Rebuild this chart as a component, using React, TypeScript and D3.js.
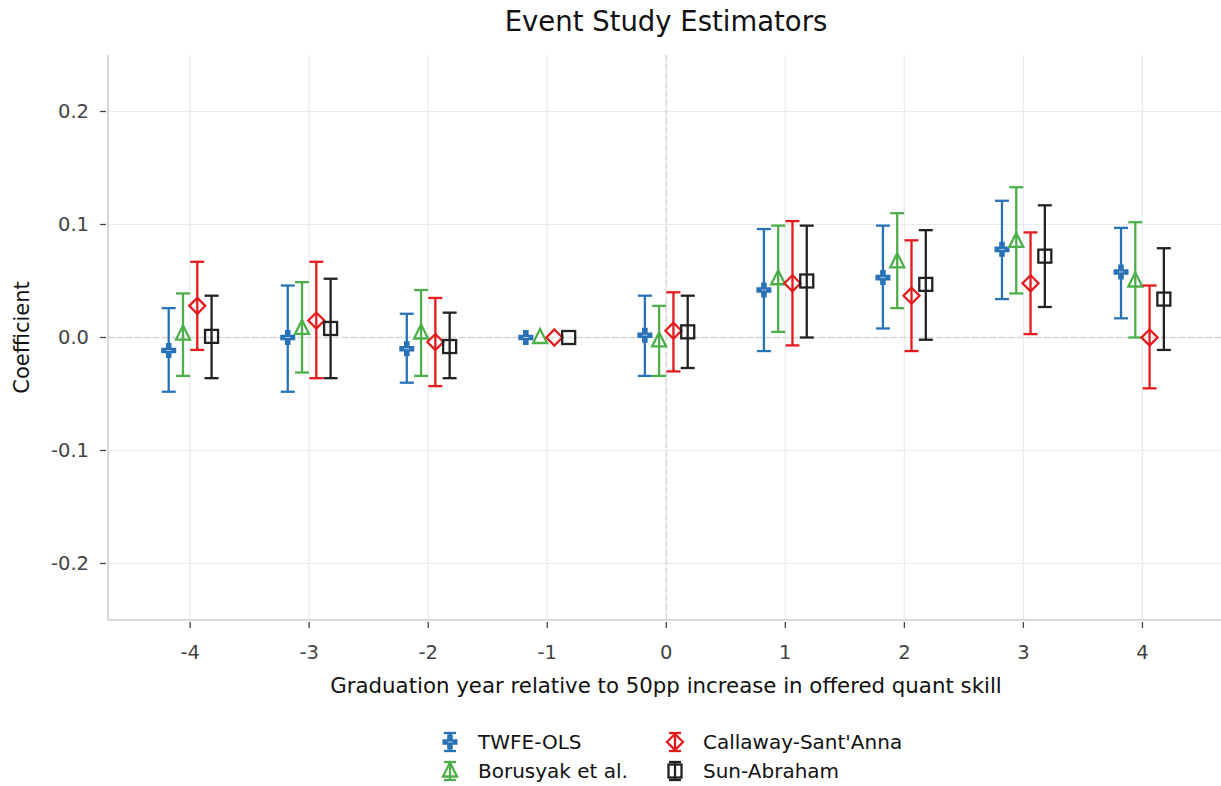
import React from "react";
import * as d3 from "d3";

const periods = [-4, -3, -2, -1, 0, 1, 2, 3, 4];

const twfeCoef = [-0.0115, 0.0, -0.010, 0.0, 0.002, 0.042, 0.053, 0.078, 0.058];
const twfeLow = [-0.048, -0.048, -0.040, 0.0, -0.034, -0.012, 0.008, 0.034, 0.017];
const twfeHigh = [0.026, 0.046, 0.021, 0.0, 0.037, 0.096, 0.099, 0.121, 0.097];

const borCoef = [0.003, 0.008, 0.004, 0.0, -0.003, 0.052, 0.067, 0.085, 0.050];
const borLow = [-0.034, -0.031, -0.034, 0.0, -0.034, 0.005, 0.026, 0.039, 0.0];
const borHigh = [0.039, 0.049, 0.042, 0.0, 0.028, 0.099, 0.110, 0.133, 0.102];

const csCoef = [0.028, 0.015, -0.004, 0.0, 0.006, 0.048, 0.037, 0.048, 0.0];
const csLow = [-0.011, -0.036, -0.043, 0.0, -0.030, -0.007, -0.012, 0.003, -0.045];
const csHigh = [0.067, 0.067, 0.035, 0.0, 0.040, 0.103, 0.086, 0.093, 0.046];

const saCoef = [0.001, 0.008, -0.008, 0.0, 0.005, 0.050, 0.047, 0.072, 0.034];
const saLow = [-0.036, -0.036, -0.036, 0.0, -0.027, 0.0, -0.002, 0.027, -0.011];
const saHigh = [0.037, 0.052, 0.022, 0.0, 0.037, 0.099, 0.095, 0.117, 0.079];

const yTicks = [-0.2, -0.1, 0.0, 0.1, 0.2];

const series = [
  { name: "TWFE-OLS", color: "#2a72b8", shape: "plus", offset: -0.18, coef: twfeCoef, low: twfeLow, high: twfeHigh },
  { name: "Borusyak et al.", color: "#4daf4a", shape: "triangle", offset: -0.06, coef: borCoef, low: borLow, high: borHigh },
  { name: "Callaway-Sant'Anna", color: "#e41a1c", shape: "diamond", offset: 0.06, coef: csCoef, low: csLow, high: csHigh },
  { name: "Sun-Abraham", color: "#222222", shape: "square", offset: 0.18, coef: saCoef, low: saLow, high: saHigh },
];

const W = 1221;
const H = 786;
const left = 108;
const right = 1221;
const top = 55;
const bottom = 620;
const font = "DejaVu Sans, sans-serif";
const sw = 2.3;

const Marker = ({ shape, color, x, y }: { shape: string; color: string; x: number; y: number }) => {
  if (shape === "plus") {
    const a = 7.5, t = 2.8;
    const d = `M${x - t},${y - a}H${x + t}V${y - t}H${x + a}V${y + t}H${x + t}V${y + a}H${x - t}V${y + t}H${x - a}V${y - t}H${x - t}Z`;
    return (
      <g>
        <path d={d} fill={color} />
        <line x1={x - 2.5} x2={x + 2.5} y1={y} y2={y} stroke="#ffffff" strokeWidth={0.8} opacity={0.8} />
      </g>
    );
  }
  if (shape === "triangle") {
    const d = `M${x},${y - 8.5}L${x + 7},${y + 5.5}L${x - 7},${y + 5.5}Z`;
    return <path d={d} fill="none" stroke={color} strokeWidth={sw} />;
  }
  if (shape === "diamond") {
    const d = `M${x},${y - 8}L${x + 8},${y}L${x},${y + 8}L${x - 8},${y}Z`;
    return <path d={d} fill="none" stroke={color} strokeWidth={sw} />;
  }
  return <rect x={x - 6.5} y={y - 6.5} width={13} height={13} fill="none" stroke={color} strokeWidth={sw} />;
};

export default function App() {
  const x = d3.scaleLinear().domain([-4.69, 4.66]).range([left, right]);
  const y = d3.scaleLinear().domain([-0.25, 0.25]).range([bottom, top]);
  const fmt = (t: number) => d3.format(".1f")(t).replace("\u2212", "-");

  return (
    <svg width={W} height={H} style={{ display: "block", position: "absolute", left: 0, top: 0 }} fontFamily={font}>
      <rect width={W} height={H} fill="#ffffff" />
      {/* grid */}
      {periods.map((p) => (
        <line key={"gx" + p} x1={x(p)} x2={x(p)} y1={top} y2={bottom} stroke="#ebebeb" strokeWidth={1.2} />
      ))}
      {yTicks.map((t) => (
        <line key={"gy" + t} x1={left} x2={right} y1={y(t)} y2={y(t)} stroke="#ebebeb" strokeWidth={1.2} />
      ))}
      {/* reference lines */}
      <line x1={left} x2={right} y1={y(0)} y2={y(0)} stroke="#d6d6d6" strokeWidth={1.3} strokeDasharray="6,3" />
      <line x1={x(0)} x2={x(0)} y1={top} y2={bottom} stroke="#d6d6d6" strokeWidth={1.3} strokeDasharray="6,3" />
      {/* axes */}
      <line x1={left} x2={left} y1={top} y2={bottom} stroke="#cccccc" strokeWidth={1.5} />
      <line x1={left} x2={right} y1={bottom} y2={bottom} stroke="#cccccc" strokeWidth={1.5} />
      {yTicks.map((t) => (
        <g key={"yt" + t}>
          <line x1={left - 8} x2={left - 2} y1={y(t)} y2={y(t)} stroke="#444" strokeWidth={1.3} />
          <text x={left - 19} y={y(t)} dy="0.35em" textAnchor="end" fontSize={19.5} fill="#444">
            {fmt(t)}
          </text>
        </g>
      ))}
      {periods.map((p) => (
        <g key={"xt" + p}>
          <line x1={x(p)} x2={x(p)} y1={bottom + 2} y2={bottom + 8} stroke="#444" strokeWidth={1.3} />
          <text x={x(p)} y={bottom + 39} textAnchor="middle" fontSize={19.5} fill="#444">
            {p}
          </text>
        </g>
      ))}
      <text x={666} y={693} textAnchor="middle" fontSize={21.3} fill="#111">
        Graduation year relative to 50pp increase in offered quant skill
      </text>
      <text transform={`translate(22,${y(0)}) rotate(-90)`} dy="0.35em" textAnchor="middle" fontSize={21} fill="#111">
        Coefficient
      </text>
      <text x={666} y={31} textAnchor="middle" fontSize={27.5} fill="#111">
        Event Study Estimators
      </text>
      {/* error bars & markers */}
      {series.map((s) => (
        <g key={s.name}>
          {periods.map((p, i) => {
            const cx = x(p + s.offset);
            const hasCi = s.high[i] !== s.low[i];
            return (
              <g key={p}>
                {hasCi && (
                  <g stroke={s.color} strokeWidth={sw}>
                    <line x1={cx} x2={cx} y1={y(s.low[i])} y2={y(s.high[i])} />
                    <line x1={cx - 7} x2={cx + 7} y1={y(s.low[i])} y2={y(s.low[i])} />
                    <line x1={cx - 7} x2={cx + 7} y1={y(s.high[i])} y2={y(s.high[i])} />
                  </g>
                )}
                <Marker shape={s.shape} color={s.color} x={cx} y={y(s.coef[i])} />
              </g>
            );
          })}
        </g>
      ))}
      {/* legend: two columns, filled column by column */}
      {series.map((s, i) => {
        const mx = i < 2 ? 450 : 675;
        const my = i % 2 === 0 ? 742 : 771;
        return (
          <g key={"lg" + s.name}>
            <g stroke={s.color} strokeWidth={sw}>
              <line x1={mx} x2={mx} y1={my - 9} y2={my + 9} />
              <line x1={mx - 6} x2={mx + 6} y1={my - 9} y2={my - 9} />
              <line x1={mx - 6} x2={mx + 6} y1={my + 9} y2={my + 9} />
            </g>
            <Marker shape={s.shape} color={s.color} x={mx} y={my} />
            <text x={mx + 28} y={my} dy="0.35em" fontSize={20} fill="#111">
              {s.name}
            </text>
          </g>
        );
      })}
    </svg>
  );
}
